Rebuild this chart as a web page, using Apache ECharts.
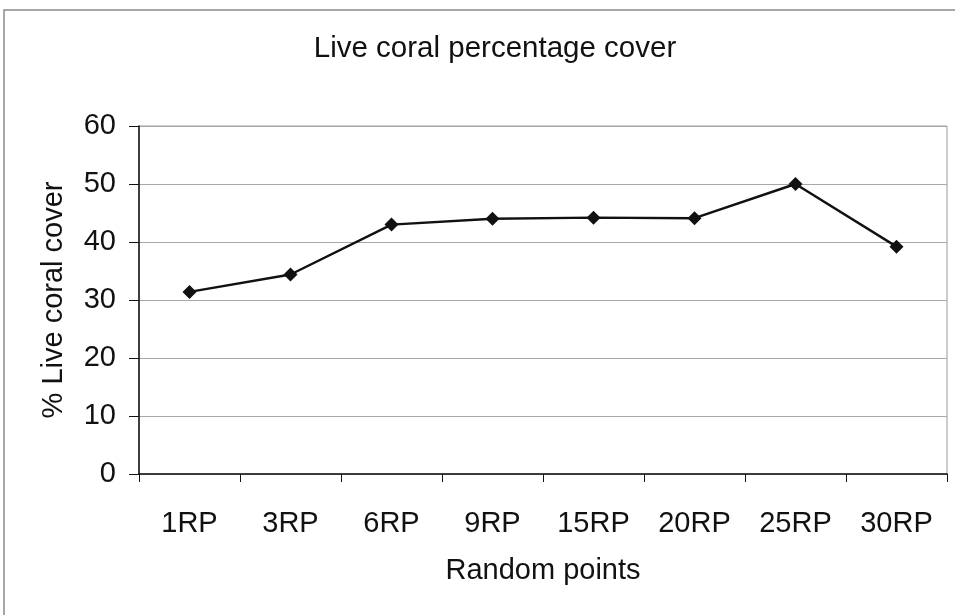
<!DOCTYPE html>
<html>
<head>
<meta charset="utf-8">
<script src="https://cdn.jsdelivr.net/npm/echarts@6/dist/echarts.min.js"></script>
<style>
  html, body { margin: 0; padding: 0; background: #fff; }
  #chart { width: 955px; height: 615px; }
</style>
</head>
<body>
<div id="chart"></div>
<script>
// Sampling effort (number of random points) and live coral cover (%)
const categories = ['1RP', '3RP', '6RP', '9RP', '15RP', '20RP', '25RP', '30RP'];
const coverValues = [31.4, 34.4, 43.0, 44.0, 44.2, 44.1, 50.0, 39.2];
const yTicks = [0, 10, 20, 30, 40, 50, 60];

const font = '"Liberation Sans", Arial, sans-serif';
const chart = echarts.init(document.getElementById('chart'));

chart.setOption({
  backgroundColor: '#ffffff',
  animation: false,
  title: {
    text: 'Live coral percentage cover',
    left: 490,
    top: 29,
    textAlign: 'center',
    textStyle: { fontFamily: font, fontSize: 29.5, fontWeight: 'normal', color: '#111' }
  },
  graphic: [{
    type: 'rect',
    shape: { x: 4, y: 10, width: 1000, height: 700 },
    style: { fill: 'none', stroke: '#8a8a8a', lineWidth: 1.5 },
    silent: true
  }],
  grid: {
    left: 139, right: 8, top: 126, bottom: 141,
    show: true, borderColor: '#9a9a9a', borderWidth: 1
  },
  xAxis: {
    type: 'category',
    data: categories,
    boundaryGap: true,
    name: 'Random points',
    nameLocation: 'middle',
    nameGap: 82,
    nameTextStyle: { fontFamily: font, fontSize: 29, color: '#111' },
    axisLine: { lineStyle: { color: '#111', width: 1.5 } },
    axisTick: { show: true, alignWithLabel: false, length: 8, lineStyle: { color: '#111' } },
    axisLabel: { fontFamily: font, fontSize: 29, color: '#111', margin: 35 },
    splitLine: { show: false }
  },
  yAxis: {
    type: 'value',
    min: yTicks[0],
    max: yTicks[yTicks.length - 1],
    interval: 10,
    name: '% Live coral cover',
    nameLocation: 'middle',
    nameGap: 71,
    nameRotate: 90,
    nameTextStyle: { fontFamily: font, fontSize: 29, color: '#111' },
    axisLine: { show: true, lineStyle: { color: '#111', width: 1.5 } },
    axisTick: { show: true, inside: false, length: 10, lineStyle: { color: '#111' } },
    axisLabel: { fontFamily: font, fontSize: 29, color: '#111', margin: 23 },
    splitLine: { show: true, lineStyle: { color: '#a8a8a8', width: 1 } }
  },
  series: [{
    type: 'line',
    data: coverValues,
    symbol: 'diamond',
    symbolSize: 14,
    itemStyle: { color: '#111' },
    lineStyle: { color: '#111', width: 2.4 }
  }]
});
</script>
</body>
</html>
